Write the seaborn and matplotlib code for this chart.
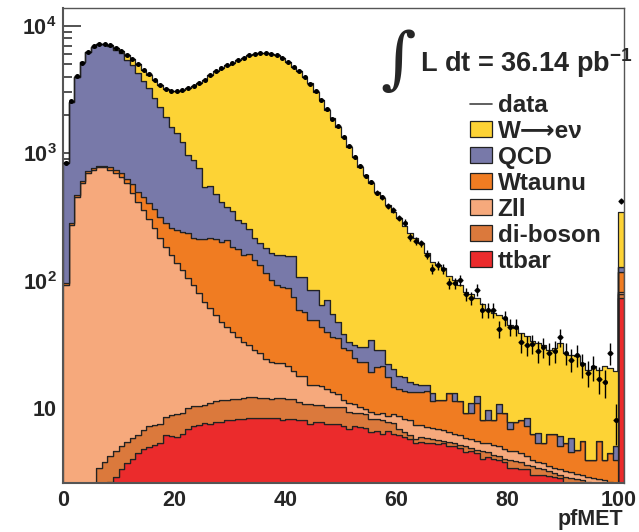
import numpy as np
import pandas as pd
import matplotlib
matplotlib.use("Agg")
import matplotlib.pyplot as plt
import seaborn as sns
from matplotlib.patches import Patch
from matplotlib.lines import Line2D
from matplotlib.ticker import MultipleLocator, LogLocator, NullFormatter

# ---------------- data (1 GeV bins, 0..100 plus overflow bin 100-101) ----------------
bin_low = list(range(0, 101))

# top edge of each stacked layer (cumulative)
top_ttbar = [0.5, 0.8, 1.0, 1.3, 1.6, 1.9, 2.1, 2.4, 2.65, 2.9,
             3.35, 3.7, 4.0, 4.4, 4.8, 4.95, 5.1, 5.3, 6.1, 6.0,
             5.9, 6.3, 6.8, 7.2, 7.4, 7.6, 7.5, 7.7, 7.8, 8.0,
             8.0, 8.2, 8.2, 8.3, 8.35, 8.3, 8.3, 8.3, 8.4, 8.1,
             8.2, 8.2, 8.0, 8.0, 7.5, 7.7, 7.7, 7.45, 7.5, 7.5,
             7.2, 6.9, 7.2, 7.1, 7.0, 6.5, 6.6, 6.3, 6.6, 6.2,
             6.1, 5.9, 5.7, 5.3, 5.4, 5.3, 5.3, 5.2, 5.3, 5.0,
             5.0, 4.9, 4.5, 4.6, 4.4, 4.0, 4.1, 4.0, 3.9, 3.8,
             3.4, 3.4, 3.3, 3.3, 3.0, 3.0, 3.0, 2.95, 2.9, 2.8,
             2.5, 2.45, 2.4, 2.35, 2.3, 2.25, 2.2, 2.15, 2.1, 2.0,
             73]
top_diboson = [0.6, 1.0, 1.4, 1.8, 2.2, 2.6, 3.36, 3.8, 4.2, 4.6,
               5.0, 5.4, 5.8, 6.1, 6.7, 7.2, 7.3, 7.5, 8.5, 8.8,
               9.0, 9.1, 10.0, 10.3, 10.3, 10.5, 10.9, 11.4, 11.5, 11.6,
               11.7, 11.8, 12.0, 12.3, 12.2, 12.0, 11.9, 11.8, 11.9, 11.9,
               11.7, 11.7, 11.2, 10.8, 10.8, 10.5, 10.5, 10.1, 10.1, 10.1,
               10.1, 9.3, 9.2, 9.2, 8.9, 8.2, 8.2, 8.0, 7.7, 7.6,
               6.9, 6.5, 6.1, 5.7, 5.9, 5.8, 5.7, 5.6, 5.5, 5.4,
               5.3, 5.1, 5.0, 4.9, 4.7, 4.6, 4.5, 4.3, 4.2, 4.0,
               3.9, 3.85, 3.8, 3.6, 3.5, 3.4, 3.3, 3.2, 3.1, 3.0,
               2.9, 2.8, 2.75, 2.7, 2.65, 2.6, 2.5, 2.5, 2.45, 2.4,
               78]
top_zll = [92, 274, 456, 581, 697, 740, 776, 776, 740, 705,
           647, 581, 485, 417, 359, 303, 258, 215, 185, 159,
           137, 121, 104, 92, 79.5, 68.3, 60.5, 53.7, 47.5, 43.4,
           39.7, 36.2, 33.0, 31.2, 28.5, 26.9, 24.1, 22.9, 22.4, 22.6,
           21.5, 19.5, 18.0, 18.0, 15.3, 15.3, 15.0, 14.2, 13.4, 12.8,
           11.5, 10.9, 10.8, 10.1, 9.9, 9.3, 9.0, 9.1, 8.7, 9.0,
           8.6, 8.2, 8.0, 7.4, 7.3, 7.1, 7.0, 6.8, 6.7, 6.5,
           6.3, 6.1, 5.8, 5.7, 5.5, 5.3, 5.3, 5.1, 5.0, 4.8,
           4.6, 4.6, 4.4, 4.2, 3.9, 3.8, 3.7, 3.5, 3.4, 3.3,
           3.2, 3.15, 3.05, 3.0, 2.9, 2.8, 2.75, 2.7, 2.65, 2.6,
           82]
top_wtaunu = [95, 282, 470, 600, 720, 770, 800, 800, 776, 740,
              700, 625, 575, 499, 456, 410, 363, 318, 282, 258,
              250, 242, 235, 215, 214, 213, 215, 213, 202, 208,
              185, 177, 159, 162, 145, 133, 114, 101, 92, 89.5,
              87, 74.6, 58.6, 57, 48.9, 48.9, 43.4, 39.7, 36.3, 35.2,
              29.4, 28.5, 24.5, 23.1, 23.1, 19.1, 20.9, 21.5, 17.4, 14.6,
              14.2, 13.7, 13.4, 13.4, 13.4, 13.6, 11.3, 11.6, 11.6, 13.2,
              11.3, 11.3, 9.1, 9.1, 11.0, 8.1, 8.1, 8.1, 9.1, 9.1,
              6.8, 7.8, 8.1, 7.2, 6.3, 5.3, 5.3, 6.3, 6.3, 5.0,
              5.3, 4.5, 4.7, 5.5, 3.9, 3.9, 5.5, 3.9, 4.4, 3.9,
              117]
top_qcd = [840, 2530, 3980, 5170, 6250, 6840, 7180, 7150, 6950, 6450,
           6100, 5410, 4890, 4300, 3720, 3240, 2705, 2295, 1940, 1610,
           1435, 1233, 970, 886, 762, 547, 555, 479, 417, 377,
           354, 299, 282, 253, 215, 199, 179, 166, 159, 159,
           155, 155, 107, 107, 84, 85, 64, 70, 55, 47,
           38.4, 33, 31, 30, 30, 33.9, 28.4, 28.4, 22.2, 20.3,
           18.0, 17.4, 15.9, 15.5, 15.2, 15.2, 13.2, 11.6, 11.6, 13.2,
           13.2, 11.3, 9.1, 11.0, 12.5, 8.1, 9.7, 8.1, 10.7, 9.1,
           7.8, 7.8, 8.1, 8.3, 6.3, 6.4, 5.3, 6.3, 6.3, 6.0,
           5.3, 5.8, 4.7, 5.5, 3.9, 3.9, 5.5, 3.9, 4.4, 5.0,
           128]
top_wenu = [850, 2545, 3995, 5190, 6280, 6870, 7220, 7220, 7100, 6680,
            6390, 5920, 5480, 5030, 4510, 4120, 3770, 3445, 3200, 3100,
            3100, 3130, 3240, 3340, 3540, 3770, 4120, 4380, 4660, 4945,
            5150, 5410, 5640, 5850, 6030, 6100, 6100, 6030, 5920, 5570,
            5200, 4790, 4380, 3995, 3540, 3050, 2625, 2190, 1885, 1620,
            1350, 1128, 942, 786, 676, 581, 499, 443, 392, 348,
            310, 270, 235, 215, 196, 164, 141, 132, 125, 108,
            101, 92, 82, 78, 73, 65, 59, 56, 54, 51,
            45, 42.5, 39, 36.6, 33.4, 32.4, 31.5, 28.7, 29.6, 32.4,
            27, 26.2, 25.4, 22.6, 20, 21.2, 20, 21.2, 20.5, 19.4,
            346]
data_counts = [840, 2560, 4010, 5150, 6240, 6900, 7250, 7200, 7050, 6700,
               6350, 5950, 5450, 5050, 4480, 4150, 3750, 3430, 3210, 3080,
               3090, 3140, 3230, 3360, 3550, 3760, 4100, 4400, 4650, 4960,
               5130, 5420, 5620, 5870, 6010, 6120, 6080, 6050, 5890, 5600,
               5180, 4760, 4400, 3980, 3520, 3080, 2600, 2210, 1860, 1640,
               1330, 1140, 930, 800, 665, 596, 490, 450, 385, 359,
               310, 285, 220, 205, 196, 160, 123, 132, 123, 95,
               95, 101, 78, 73, 85, 59, 59, 59, 42, 51,
               43, 43, 33, 31, 32, 28, 30, 27, 28, 36,
               27, 24, 26, 22, 19, 21, 17, 16, 27, 8,
               422]

processes = ["W\u27f6e\u03bd", "QCD", "Wtaunu", "Zll", "di-boson", "ttbar"]
colors = ["#FDD335", "#7879A9", "#F07C22", "#F6A97C", "#DB793C", "#EB2B2C"]

# ---------------- build long table (per-process contents) ----------------
tops = [top_wenu, top_qcd, top_wtaunu, top_zll, top_diboson, top_ttbar]
centers = np.array(bin_low, dtype=float) + 0.5
rows = []
for i, name in enumerate(processes):
    upper = np.array(tops[i], dtype=float)
    lower = np.array(tops[i + 1], dtype=float) if i + 1 < len(tops) else np.zeros_like(upper)
    content = np.clip(upper - lower, 0, None)
    rows.append(pd.DataFrame({"pfMET": centers, "events": content, "process": name}))
df = pd.concat(rows, ignore_index=True)

# ---------------- style ----------------
sns.set_theme(style="ticks")
plt.rcParams['font.family'] = ['Liberation Sans', 'DejaVu Sans']
plt.rcParams['font.weight'] = 'bold'
plt.rcParams['mathtext.fontset'] = 'custom'
plt.rcParams['mathtext.rm'] = 'Liberation Sans:bold'
plt.rcParams['mathtext.bf'] = 'Liberation Sans:bold'
plt.rcParams['mathtext.it'] = 'Liberation Sans:bold'

W, H = 639, 532
fig = plt.figure(figsize=(W / 100, H / 100), dpi=100)
ax = fig.add_axes([63 / W, 1 - 483 / H, 561 / W, 475 / H])

sns.histplot(data=df, x="pfMET", weights="events", hue="process",
             hue_order=processes, palette=dict(zip(processes, colors)),
             multiple="stack", element="step", bins=101, binrange=(0, 101),
             alpha=1, edgecolor="#222222", linewidth=0.9, legend=False, ax=ax)

ax.set_yscale("log")
ax.set_xlim(0, 101)
ax.set_ylim(2.58, 13800)

# data points with Poisson errors
dc = np.array(data_counts, dtype=float)
ax.errorbar(centers, dc, yerr=np.sqrt(dc), xerr=0.5, fmt="none",
            ecolor="black", elinewidth=1.0, zorder=5)
sns.scatterplot(x=centers, y=dc, color="black", s=13, marker="o",
                edgecolor="black", linewidth=0, ax=ax, zorder=6)

# axes cosmetics
ax.set_xlabel("")
ax.set_ylabel("")
ax.xaxis.set_major_locator(MultipleLocator(20))
ax.xaxis.set_minor_locator(MultipleLocator(5))
ax.set_yticks([10, 100, 1000, 10000])
ax.set_yticklabels(["10", r"$\mathbf{10^{2}}$", r"$\mathbf{10^{3}}$", r"$\mathbf{10^{4}}$"])
ax.yaxis.set_minor_locator(LogLocator(base=10, subs=np.arange(2, 10)))
ax.yaxis.set_minor_formatter(NullFormatter())
ax.tick_params(axis="both", which="both", direction="in", top=False, right=False,
               color="#444444", width=1.3)
ax.tick_params(axis="y", which="major", length=13, pad=4.5, labelsize=15.5)
ax.tick_params(axis="y", which="minor", length=6.5)
ax.tick_params(axis="x", which="major", length=11.3, pad=5, labelsize=15.5)
ax.tick_params(axis="x", which="minor", length=5.8)
for lab in ax.get_xticklabels() + ax.get_yticklabels():
    lab.set_fontweight("bold")
for s in ax.spines.values():
    s.set_color("#555555")
    s.set_linewidth(1.0)
    s.set_visible(True)
ax.spines["left"].set_linewidth(1.5)
ax.spines["bottom"].set_linewidth(1.5)

# legend
handles = [Line2D([0], [0], color="#444444", lw=1.2)] + \
          [Patch(facecolor=c, edgecolor="#222222", linewidth=0.9) for c in colors]
labels = ["data"] + processes
leg = ax.legend(handles, labels, loc="upper left",
                bbox_to_anchor=(470 / W, 1 - 94 / H), bbox_transform=fig.transFigure,
                frameon=False, prop={"family": ["Liberation Sans", "DejaVu Sans"],
                                     "weight": "bold", "size": 17.5},
                handlelength=0.92, handleheight=0.62, handletextpad=0.22,
                labelspacing=0.12, borderpad=0, borderaxespad=0)

# luminosity label
fig.text(398 / W, 1 - 62 / H, "\u222b", fontsize=49, family="DejaVu Serif",
         fontweight="normal", ha="center", va="center")
fig.text(420 / W, 1 - 72 / H, r"L dt = 36.14 pb$^{\mathbf{-1}}$", fontsize=19.5,
         fontweight="bold", ha="left", va="baseline")

fig.text(623 / W, 1 - 520 / H, "pfMET", fontsize=15.5, fontweight="bold",
         ha="right", va="center")

fig.savefig("out.png", dpi=100)
